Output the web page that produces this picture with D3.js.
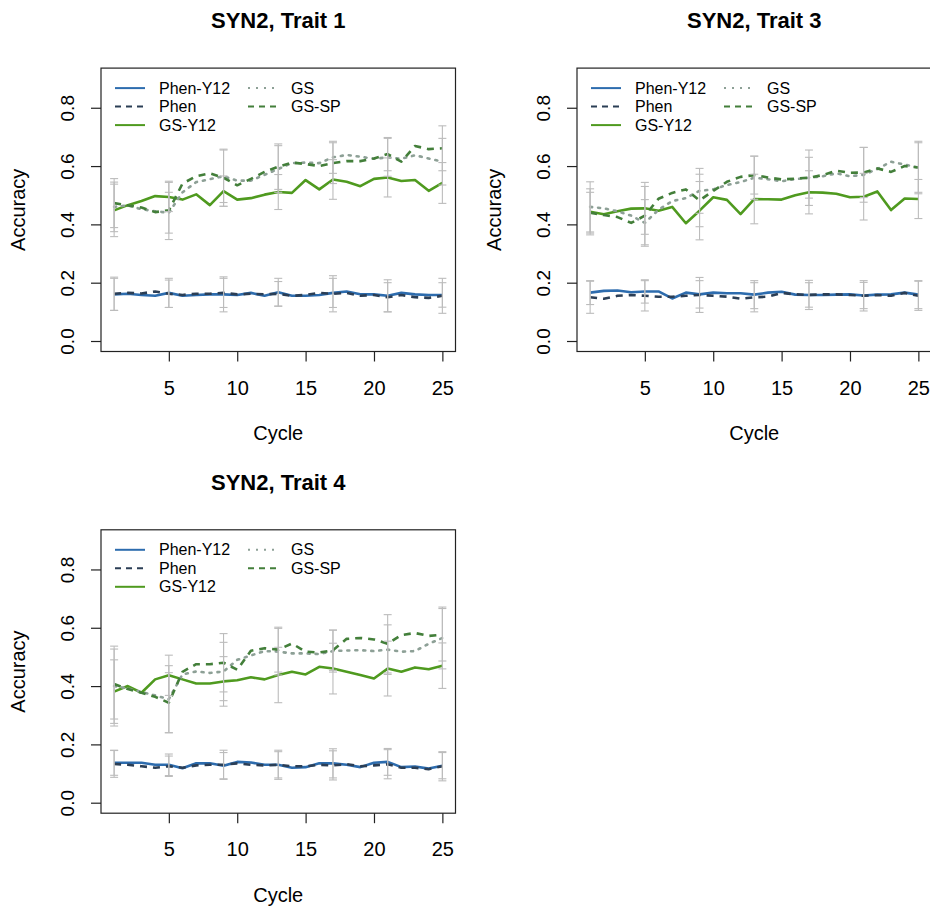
<!DOCTYPE html>
<html>
<head>
<meta charset="utf-8">
<script src="https://cdn.jsdelivr.net/npm/d3@7"></script>
<style>
  html, body { margin: 0; padding: 0; background: #ffffff; }
  svg { display: block; }
  text { font-family: "Liberation Sans", Arial, sans-serif; fill: #000; }
</style>
</head>
<body>
<svg id="chart" width="930" height="908"></svg>
<script>
// ---------------- DATA ----------------
const cycles = [1,2,3,4,5,6,7,8,9,10,11,12,13,14,15,16,17,18,19,20,21,22,23,24,25];
const errCycles = [1,5,9,13,17,21,25];
const xTicks = [5,10,15,20,25];
const yTicks = [0.0,0.2,0.4,0.6,0.8];
const seriesNames = ["Phen-Y12","Phen","GS-Y12","GS","GS-SP"];
const panelTitles = ["SYN2, Trait 1","SYN2, Trait 3","SYN2, Trait 4"];

// Trait 1
const t1PhenY12 = [0.160,0.162,0.158,0.155,0.165,0.155,0.158,0.160,0.160,0.158,0.165,0.155,0.167,0.155,0.155,0.158,0.165,0.170,0.160,0.160,0.155,0.165,0.160,0.158,0.158];
const t1Phen    = [0.162,0.165,0.163,0.170,0.162,0.158,0.162,0.162,0.165,0.160,0.162,0.160,0.162,0.155,0.158,0.165,0.162,0.165,0.155,0.158,0.150,0.158,0.150,0.148,0.155];
const t1GSY12   = [0.448,0.466,0.480,0.497,0.494,0.485,0.503,0.466,0.514,0.485,0.490,0.502,0.511,0.508,0.552,0.520,0.554,0.546,0.531,0.556,0.561,0.549,0.552,0.515,0.542];
const t1GS      = [0.460,0.465,0.452,0.445,0.440,0.510,0.545,0.555,0.565,0.550,0.550,0.570,0.590,0.610,0.612,0.610,0.630,0.638,0.632,0.625,0.630,0.625,0.637,0.626,0.615];
const t1GSSP    = [0.473,0.465,0.458,0.442,0.448,0.540,0.565,0.575,0.560,0.534,0.556,0.580,0.598,0.612,0.607,0.600,0.610,0.617,0.617,0.626,0.641,0.615,0.669,0.658,0.661];
const t1SdPhenY12 = [0.055,0.050,0.060,0.048,0.050,0.055,0.042];
const t1SdPhen    = [0.057,0.047,0.050,0.042,0.062,0.050,0.060];
const t1SdGSY12   = [0.090,0.050,0.052,0.060,0.068,0.067,0.070];
const t1SdGS      = [0.085,0.070,0.090,0.080,0.055,0.065,0.080];
const t1SdGSSP    = [0.084,0.100,0.098,0.078,0.070,0.057,0.077];

// Trait 3
const t3PhenY12 = [0.166,0.172,0.173,0.167,0.170,0.170,0.146,0.166,0.160,0.166,0.164,0.164,0.159,0.166,0.169,0.159,0.158,0.158,0.159,0.160,0.156,0.159,0.160,0.166,0.159];
const t3Phen    = [0.150,0.145,0.155,0.158,0.155,0.152,0.152,0.155,0.158,0.155,0.152,0.145,0.150,0.152,0.165,0.160,0.158,0.160,0.160,0.158,0.155,0.158,0.155,0.165,0.155];
const t3GSY12   = [0.443,0.435,0.445,0.454,0.455,0.447,0.460,0.404,0.447,0.493,0.484,0.435,0.487,0.486,0.485,0.500,0.510,0.509,0.505,0.493,0.495,0.513,0.449,0.489,0.487];
const t3GS      = [0.460,0.455,0.445,0.430,0.405,0.450,0.480,0.490,0.515,0.520,0.535,0.545,0.560,0.555,0.548,0.555,0.560,0.565,0.575,0.565,0.570,0.590,0.615,0.605,0.595];
const t3GSSP    = [0.440,0.432,0.425,0.405,0.430,0.488,0.508,0.520,0.482,0.515,0.546,0.563,0.569,0.561,0.554,0.557,0.560,0.569,0.584,0.577,0.578,0.592,0.580,0.600,0.595];
const t3SdPhenY12 = [0.041,0.040,0.047,0.048,0.042,0.045,0.048];
const t3SdPhen    = [0.055,0.052,0.060,0.050,0.050,0.052,0.050];
const t3SdGSY12   = [0.079,0.089,0.100,0.085,0.074,0.080,0.067];
const t3SdGS      = [0.086,0.080,0.077,0.074,0.095,0.094,0.085];
const t3SdGSSP    = [0.070,0.100,0.090,0.065,0.070,0.086,0.090];

// Trait 4
const t4PhenY12 = [0.137,0.137,0.137,0.130,0.130,0.118,0.135,0.135,0.127,0.140,0.138,0.130,0.130,0.120,0.122,0.135,0.135,0.130,0.122,0.137,0.140,0.122,0.124,0.117,0.127];
const t4Phen    = [0.133,0.130,0.125,0.120,0.125,0.120,0.128,0.130,0.130,0.135,0.130,0.128,0.130,0.125,0.125,0.130,0.128,0.132,0.125,0.128,0.132,0.120,0.120,0.115,0.125];
const t4GSY12   = [0.381,0.400,0.377,0.423,0.437,0.423,0.409,0.409,0.416,0.420,0.430,0.423,0.438,0.449,0.440,0.466,0.460,0.449,0.438,0.426,0.460,0.449,0.464,0.458,0.470];
const t4GS      = [0.400,0.392,0.380,0.368,0.355,0.440,0.450,0.445,0.450,0.490,0.505,0.520,0.518,0.512,0.512,0.510,0.520,0.522,0.523,0.520,0.525,0.518,0.520,0.545,0.565];
const t4GSSP    = [0.407,0.390,0.377,0.363,0.343,0.449,0.475,0.475,0.480,0.456,0.521,0.530,0.525,0.546,0.518,0.515,0.523,0.562,0.565,0.560,0.545,0.575,0.582,0.572,0.576];
const t4SdPhenY12 = [0.043,0.037,0.045,0.045,0.050,0.046,0.045];
const t4SdPhen    = [0.046,0.035,0.050,0.050,0.050,0.050,0.050];
const t4SdGSY12   = [0.109,0.069,0.085,0.095,0.087,0.094,0.078];
const t4SdGS      = [0.137,0.115,0.100,0.080,0.072,0.085,0.106];
const t4SdGSSP    = [0.120,0.103,0.100,0.077,0.069,0.100,0.090];

// ---------------- STYLE ----------------
const styles = [
  { color: "#2d6cae", dash: null },      // Phen-Y12
  { color: "#2b3e55", dash: "7,6" },     // Phen
  { color: "#4f9a1f", dash: null },      // GS-Y12
  { color: "#8da096", dash: "2,6" },     // GS
  { color: "#437f3a", dash: "7,6" }      // GS-SP
];

const panels = [
  { title: panelTitles[0], values: [t1PhenY12,t1Phen,t1GSY12,t1GS,t1GSSP], sds: [t1SdPhenY12,t1SdPhen,t1SdGSY12,t1SdGS,t1SdGSSP], left: 101, top: 68.1 },
  { title: panelTitles[1], values: [t3PhenY12,t3Phen,t3GSY12,t3GS,t3GSSP], sds: [t3SdPhenY12,t3SdPhen,t3SdGSY12,t3SdGS,t3SdGSSP], left: 577, top: 68.1 },
  { title: panelTitles[2], values: [t4PhenY12,t4Phen,t4GSY12,t4GS,t4GSSP], sds: [t4SdPhenY12,t4SdPhen,t4SdGSY12,t4SdGS,t4SdGSSP], left: 101, top: 529.8 }
];

const W = 354.5, H = 283.4;
const FONT = "Liberation Sans, Arial, sans-serif";
const svg = d3.select("#chart");

panels.forEach(p => {
  const g = svg.append("g").attr("transform", `translate(${p.left},${p.top})`);
  const x = d3.scaleLinear().domain([0.04, 25.96]).range([0, W]);
  const y = d3.scaleLinear().domain([-0.036, 0.936]).range([H, 0]);

  // lines
  const line = d3.line().x((d, i) => x(cycles[i])).y(d => y(d));
  p.values.forEach((vals, si) => {
    const path = g.append("path").datum(vals)
      .attr("d", line)
      .attr("fill", "none")
      .attr("stroke", styles[si].color)
      .attr("stroke-width", 2.6)
      .attr("stroke-linejoin", "round");
    if (styles[si].dash) path.attr("stroke-dasharray", styles[si].dash).attr("stroke-linecap", si === 3 ? "round" : "butt");
  });

  // error bars
  const eb = g.append("g").attr("stroke", "#bcbcbc").attr("stroke-width", 1.1).attr("fill", "none");
  p.values.forEach((vals, si) => {
    errCycles.forEach((c, k) => {
      const m = vals[cycles.indexOf(c)];
      const s = p.sds[si][k];
      const cx = x(c), y1 = y(m - s), y2 = y(m + s);
      eb.append("line").attr("x1", cx).attr("x2", cx).attr("y1", y1).attr("y2", y2);
      eb.append("line").attr("x1", cx - 4).attr("x2", cx + 4).attr("y1", y1).attr("y2", y1);
      eb.append("line").attr("x1", cx - 4).attr("x2", cx + 4).attr("y1", y2).attr("y2", y2);
    });
  });

  // box
  g.append("rect").attr("x", 0).attr("y", 0).attr("width", W).attr("height", H)
    .attr("fill", "none").attr("stroke", "#222").attr("stroke-width", 1.2);

  // axes
  const ya = g.append("g").call(d3.axisLeft(y).tickValues(yTicks).tickFormat(d3.format(".1f")).tickSize(10));
  ya.select(".domain").remove();
  ya.selectAll(".tick line").attr("stroke", "#222").attr("stroke-width", 1.2);
  ya.selectAll(".tick text")
    .attr("x", 0).attr("dy", "0.35em")
    .attr("text-anchor", "middle")
    .attr("transform", "translate(-34,0) rotate(-90)")
    .style("font-size", "19px").style("font-family", FONT).attr("fill", "#111");

  const xa = g.append("g").attr("transform", `translate(0,${H})`)
    .call(d3.axisBottom(x).tickValues(xTicks).tickSize(10));
  xa.select(".domain").remove();
  xa.selectAll(".tick line").attr("stroke", "#222").attr("stroke-width", 1.2);
  xa.selectAll(".tick text")
    .attr("y", 36).attr("dy", "0.35em")
    .style("font-size", "20px").style("font-family", FONT).attr("fill", "#111");

  // labels
  g.append("text").attr("x", W / 2).attr("y", -40).attr("text-anchor", "middle")
    .style("font-size", "22px").style("font-weight", "bold").text(p.title);
  g.append("text").attr("x", W / 2).attr("y", H + 82).attr("dy", "0.35em").attr("text-anchor", "middle")
    .style("font-size", "20px").text("Cycle");
  g.append("text").attr("transform", `translate(-83,${y(0.45)}) rotate(-90)`).attr("dy", "0.35em")
    .attr("text-anchor", "middle").style("font-size", "20px").text("Accuracy");

  // legend
  const lg = g.append("g");
  const legPos = [
    { sx: 14, tx: 58, ry: 20 },
    { sx: 14, tx: 58, ry: 38.5 },
    { sx: 14, tx: 58, ry: 57 },
    { sx: 147, tx: 190, ry: 20 },
    { sx: 147, tx: 190, ry: 38.5 }
  ];
  seriesNames.forEach((nm, si) => {
    const lp = legPos[si];
    const l = lg.append("line").attr("x1", lp.sx).attr("x2", lp.sx + 30).attr("y1", lp.ry).attr("y2", lp.ry)
      .attr("stroke", styles[si].color).attr("stroke-width", 2);
    if (styles[si].dash) l.attr("stroke-dasharray", si === 3 ? "2,6" : "6,5");
    lg.append("text").attr("x", lp.tx).attr("y", lp.ry).attr("dy", "0.35em")
      .style("font-size", "16px").attr("fill", "#111").text(nm);
  });
});
</script>
</body>
</html>
